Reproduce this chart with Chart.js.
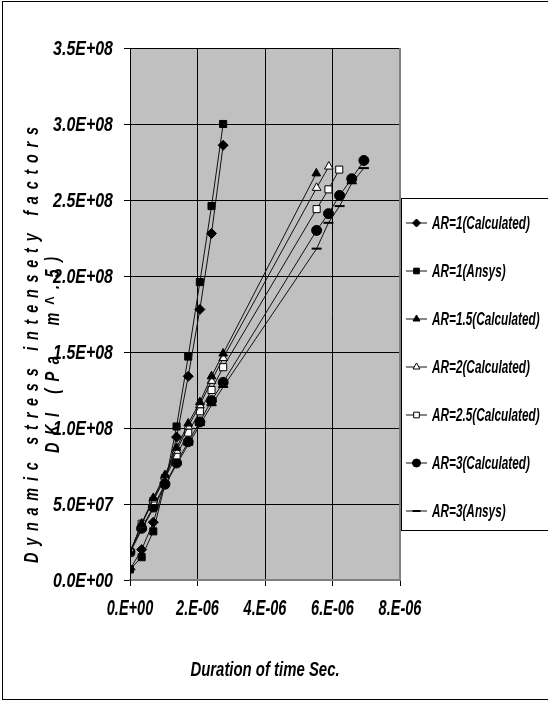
<!DOCTYPE html>
<html>
<head>
<meta charset="utf-8">
<script src="https://cdn.jsdelivr.net/npm/chart.js@4/dist/chart.umd.min.js"></script>
<style>
  body { margin: 0; background: #fff; }
  #wrap { width: 548px; height: 702px; }
</style>
</head>
<body>
<div id="wrap"><canvas id="myChart" width="548" height="702"></canvas></div>
<script>
// time steps (sec)
var tShort = [0, 0.345e-6, 0.69e-6, 1.035e-6, 1.38e-6, 1.725e-6, 2.07e-6, 2.415e-6, 2.76e-6];
var tAR15 = [0, 0.345e-6, 0.69e-6, 1.035e-6, 1.38e-6, 1.725e-6, 2.07e-6, 2.415e-6, 2.76e-6, 5.52e-6];
var tAR2 = [0, 0.345e-6, 0.69e-6, 1.035e-6, 1.38e-6, 1.725e-6, 2.07e-6, 2.415e-6, 2.76e-6, 5.53e-6, 5.89e-6];
var tAR25 = [0, 0.345e-6, 0.69e-6, 1.035e-6, 1.38e-6, 1.725e-6, 2.07e-6, 2.415e-6, 2.76e-6, 5.53e-6, 5.88e-6, 6.2e-6];
var tAR3 = [0, 0.345e-6, 0.69e-6, 1.035e-6, 1.38e-6, 1.725e-6, 2.07e-6, 2.415e-6, 2.76e-6, 5.53e-6, 5.88e-6, 6.21e-6, 6.57e-6, 6.93e-6];

// dynamic stress intensity factors
var ar1Calc = [0.7e7, 2.0e7, 3.8e7, 6.4e7, 0.94e8, 1.34e8, 1.78e8, 2.28e8, 2.86e8];
var ar1Ansys = [0.7e7, 1.5e7, 3.2e7, 6.3e7, 1.01e8, 1.47e8, 1.96e8, 2.46e8, 3.0e8];
var ar15Calc = [1.8e7, 3.7e7, 5.4e7, 6.9e7, 0.87e8, 1.03e8, 1.17e8, 1.34e8, 1.49e8, 2.675e8];
var ar2Calc = [1.8e7, 3.7e7, 5.3e7, 6.8e7, 0.85e8, 1.01e8, 1.15e8, 1.31e8, 1.46e8, 2.58e8, 2.72e8];
var ar25Calc = [1.8e7, 3.7e7, 5.2e7, 6.7e7, 0.82e8, 0.97e8, 1.11e8, 1.25e8, 1.40e8, 2.44e8, 2.57e8, 2.70e8];
var ar3Calc = [1.85e7, 3.4e7, 4.8e7, 6.3e7, 0.77e8, 0.91e8, 1.04e8, 1.18e8, 1.30e8, 2.30e8, 2.41e8, 2.53e8, 2.64e8, 2.76e8];
var ar3Ansys = [1.8e7, 3.3e7, 4.7e7, 6.2e7, 0.76e8, 0.89e8, 1.02e8, 1.15e8, 1.27e8, 2.18e8, 2.35e8, 2.46e8, 2.61e8, 2.71e8];

var labels = ['AR=1(Calculated)', 'AR=1(Ansys)', 'AR=1.5(Calculated)', 'AR=2(Calculated)',
              'AR=2.5(Calculated)', 'AR=3(Calculated)', 'AR=3(Ansys)'];

var FONT = '"Liberation Sans", Arial, sans-serif';

function pts(xs, ys) {
    return xs.map(function(x, i){ return {x: x, y: ys[i]}; });
}

function ds(label, xs, ys, style, fill, r) {
    return {
        label: label,
        data: pts(xs, ys),
        showLine: true,
        borderColor: '#111',
        borderWidth: 1,
        pointStyle: style,
        pointRadius: r,
        pointBackgroundColor: fill,
        pointBorderColor: '#000',
        pointBorderWidth: style === 'line' ? 2 : 1
    };
}

function fmtY(v) {
    if (v === 0) return '0.0E+00';
    var e = Math.floor(Math.log10(v) + 1e-9);
    var m = v / Math.pow(10, e);
    return m.toFixed(1) + 'E+' + String(e).padStart(2, '0');
}

function fmtX(v) {
    if (Math.abs(v) < 1e-12) return '0.E+00';
    var e = Math.floor(Math.log10(v) + 1e-9);
    var m = Math.round(v / Math.pow(10, e));
    return m + '.E-' + String(-e).padStart(2, '0');
}

// condensed text: squeeze horizontally by sx
function narrow(ctx, text, x, y, sx) {
    ctx.save();
    ctx.translate(x, y);
    ctx.scale(sx, 1);
    ctx.fillText(text, 0, 0);
    ctx.restore();
}

// gray plot background
var plotBg = {
    id: 'plotBg',
    beforeDraw: function(chart) {
        var a = chart.chartArea, ctx = chart.ctx;
        ctx.save();
        ctx.fillStyle = '#c0c0c0';
        ctx.fillRect(a.left, a.top, a.right - a.left, a.bottom - a.top);
        ctx.restore();
    }
};

// spaced text along a rotated baseline
function spacedText(ctx, text, cx, cy, total, sx) {
    var w = 0;
    for (var i = 0; i < text.length; i++) w += ctx.measureText(text[i]).width * sx;
    var gap = (total - w) / (text.length - 1);
    var x = -total / 2;
    ctx.save();
    ctx.translate(cx, cy);
    ctx.rotate(-Math.PI / 2);
    for (var j = 0; j < text.length; j++) {
        narrow(ctx, text[j], x, 0, sx);
        x += ctx.measureText(text[j]).width * sx + gap;
    }
    ctx.restore();
}

var extras = {
    id: 'extras',
    afterDraw: function(chart) {
        var ctx = chart.ctx, a = chart.chartArea;
        var xs = chart.scales.x, ys = chart.scales.y;
        ctx.save();
        // right edge of plot
        ctx.strokeStyle = '#808080';
        ctx.lineWidth = 2;
        ctx.beginPath();
        ctx.moveTo(a.right, a.top);
        ctx.lineTo(a.right, a.bottom + 1);
        ctx.stroke();

        ctx.fillStyle = '#000';
        ctx.textBaseline = 'middle';

        // tick labels from the chart's own ticks
        ctx.font = 'italic bold 21px ' + FONT;
        ctx.textAlign = 'right';
        ys.ticks.forEach(function(t, i) {
            narrow(ctx, t.label, 113, ys.getPixelForTick(i) + 1, 0.76);
        });
        ctx.font = 'italic bold 22px ' + FONT;
        ctx.textAlign = 'center';
        xs.ticks.forEach(function(t, i) {
            narrow(ctx, t.label, xs.getPixelForTick(i), 609, 0.66);
        });

        // axis titles
        ctx.textAlign = 'left';
        ctx.font = 'italic bold 20px ' + FONT;
        spacedText(ctx, 'Dynamic stress intensety factors', 32, 345, 436, 0.72);
        spacedText(ctx, 'DKI (Pa. m^.5)', 53, 355, 196, 0.72);
        ctx.textAlign = 'center';
        ctx.font = 'italic bold 21px ' + FONT;
        narrow(ctx, 'Duration of time Sec.', 265, 670, 0.71);

        // legend
        ctx.lineWidth = 1;
        ctx.strokeStyle = '#000';
        ctx.fillStyle = '#fff';
        ctx.fillRect(401, 198, 147, 332);
        ctx.strokeRect(401.5, 198.5, 160, 332);
        ctx.font = 'italic bold 19px ' + FONT;
        ctx.textAlign = 'left';
        chart.data.datasets.forEach(function(d, i) {
            var y = 223 + i * 48;
            ctx.strokeStyle = '#111';
            ctx.lineWidth = 1;
            ctx.beginPath();
            ctx.moveTo(406, y);
            ctx.lineTo(427, y);
            ctx.stroke();
            ctx.fillStyle = d.pointBackgroundColor;
            ctx.strokeStyle = '#000';
            ctx.lineWidth = d.pointBorderWidth;
            Chart.helpers.drawPoint(ctx, {pointStyle: d.pointStyle, radius: d.pointRadius - 1, rotation: 0, borderWidth: d.pointBorderWidth}, 416.5, y);
            ctx.fillStyle = '#000';
            narrow(ctx, d.label, 432, y + 1, 0.62);
        });

        // outer frame
        ctx.lineWidth = 1;
        ctx.strokeStyle = '#000';
        ctx.strokeRect(2.5, 1.5, 560, 698);
        ctx.restore();
    }
};

var ctx = document.getElementById('myChart');

new Chart(ctx, {
    type: 'scatter',
    data: {
        datasets: [
            ds(labels[0], tShort, ar1Calc, 'rectRot', '#000', 5),
            ds(labels[1], tShort, ar1Ansys, 'rect', '#000', 5),
            ds(labels[2], tAR15, ar15Calc, 'triangle', '#000', 5),
            ds(labels[3], tAR2, ar2Calc, 'triangle', '#fff', 5),
            ds(labels[4], tAR25, ar25Calc, 'rect', '#fff', 5),
            ds(labels[5], tAR3, ar3Calc, 'circle', '#000', 5),
            ds(labels[6], tAR3, ar3Ansys, 'line', '#000', 5)
        ]
    },
    options: {
        responsive: false,
        animation: false,
        layout: { padding: { top: 48, right: 148, left: 0, bottom: 0 } },
        plugins: {
            legend: { display: false },
            tooltip: { enabled: false }
        },
        scales: {
            x: {
                type: 'linear',
                min: 0,
                max: 8e-6,
                ticks: {
                    stepSize: 2e-6,
                    callback: fmtX,
                    color: 'rgba(0,0,0,0)',
                    maxRotation: 0,
                    font: { family: FONT, size: 12 }
                },
                grid: { color: '#000', lineWidth: 1, tickLength: 6 },
                border: { color: '#808080', width: 2 },
                afterFit: function(s) { s.height = 122; }
            },
            y: {
                min: 0,
                max: 3.5e8,
                ticks: {
                    stepSize: 5e7,
                    callback: fmtY,
                    color: 'rgba(0,0,0,0)',
                    font: { family: FONT, size: 12 }
                },
                grid: { color: '#000', lineWidth: 1, tickLength: 6 },
                border: { color: '#000', width: 1 },
                afterFit: function(s) { s.width = 130; }
            }
        }
    },
    plugins: [plotBg, extras]
});
</script>
</body>
</html>
